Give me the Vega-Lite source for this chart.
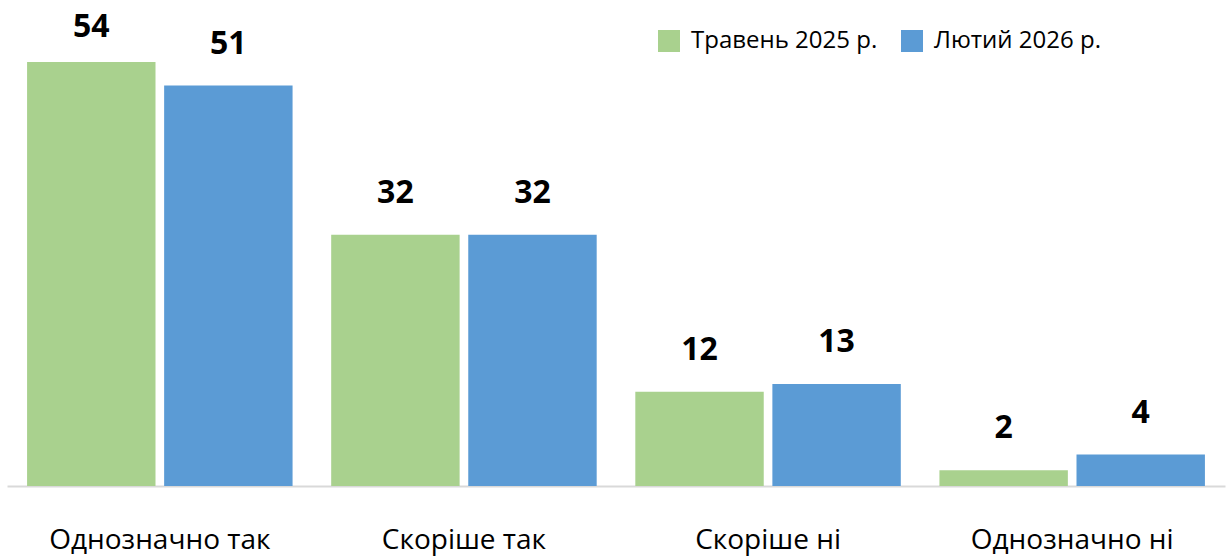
{
  "$schema": "https://vega.github.io/schema/vega-lite/v6.json",
  "width": 1218,
  "height": 486,
  "autosize": {"type": "none"},
  "padding": {"left": 7, "top": 0, "right": 2, "bottom": 70},
  "background": "white",
  "config": {
    "view": {"stroke": null},
    "font": "Open Sans"
  },
  "data": {
    "values": [
      {"category": "Однозначно так", "series": "Травень 2025 р.", "value": 54},
      {"category": "Однозначно так", "series": "Лютий 2026 р.", "value": 51},
      {"category": "Скоріше так", "series": "Травень 2025 р.", "value": 32},
      {"category": "Скоріше так", "series": "Лютий 2026 р.", "value": 32},
      {"category": "Скоріше ні", "series": "Травень 2025 р.", "value": 12},
      {"category": "Скоріше ні", "series": "Лютий 2026 р.", "value": 13},
      {"category": "Однозначно ні", "series": "Травень 2025 р.", "value": 2},
      {"category": "Однозначно ні", "series": "Лютий 2026 р.", "value": 4}
    ]
  },
  "encoding": {
    "x": {
      "field": "category",
      "type": "nominal",
      "sort": ["Однозначно так", "Скоріше так", "Скоріше ні", "Однозначно ні"],
      "scale": {"paddingInner": 0.127, "paddingOuter": 0.066},
      "axis": {
        "title": null,
        "labelAngle": 0,
        "labelFontSize": 28,
        "labelColor": "#000000",
        "labelBaseline": "alphabetic",
        "labelPadding": 62,
        "labelLimit": 0,
        "ticks": false,
        "grid": false,
        "domainColor": "#D9D9D9",
        "domainWidth": 2
      }
    },
    "xOffset": {
      "field": "series",
      "type": "nominal",
      "sort": ["Травень 2025 р.", "Лютий 2026 р."],
      "scale": {"paddingInner": 0.063, "paddingOuter": 0}
    },
    "y": {
      "field": "value",
      "type": "quantitative",
      "scale": {"domain": [0, 61.9], "nice": false},
      "axis": null
    }
  },
  "layer": [
    {
      "mark": {"type": "bar"},
      "encoding": {
        "color": {
          "field": "series",
          "type": "nominal",
          "sort": ["Травень 2025 р.", "Лютий 2026 р."],
          "scale": {"domain": ["Травень 2025 р.", "Лютий 2026 р."], "range": ["#A9D18E", "#5B9BD5"]},
          "legend": {
            "title": null,
            "orient": "none",
            "legendX": 650,
            "legendY": 29,
            "direction": "horizontal",
            "padding": 0,
            "symbolType": "square",
            "symbolSize": 484,
            "symbolStrokeWidth": 0,
            "symbolOpacity": 1,
            "labelFontSize": 24,
            "labelColor": "#000000",
            "labelOffset": 10,
            "columnPadding": 22,
            "labelLimit": 300
          }
        }
      }
    },
    {
      "mark": {"type": "text", "baseline": "alphabetic", "dy": {"expr": "datum.value > 53 ? -25 : -32"}, "fontSize": 32, "fontWeight": "bold", "color": "#000000"},
      "encoding": {
        "text": {"field": "value", "type": "quantitative"}
      }
    }
  ]
}
